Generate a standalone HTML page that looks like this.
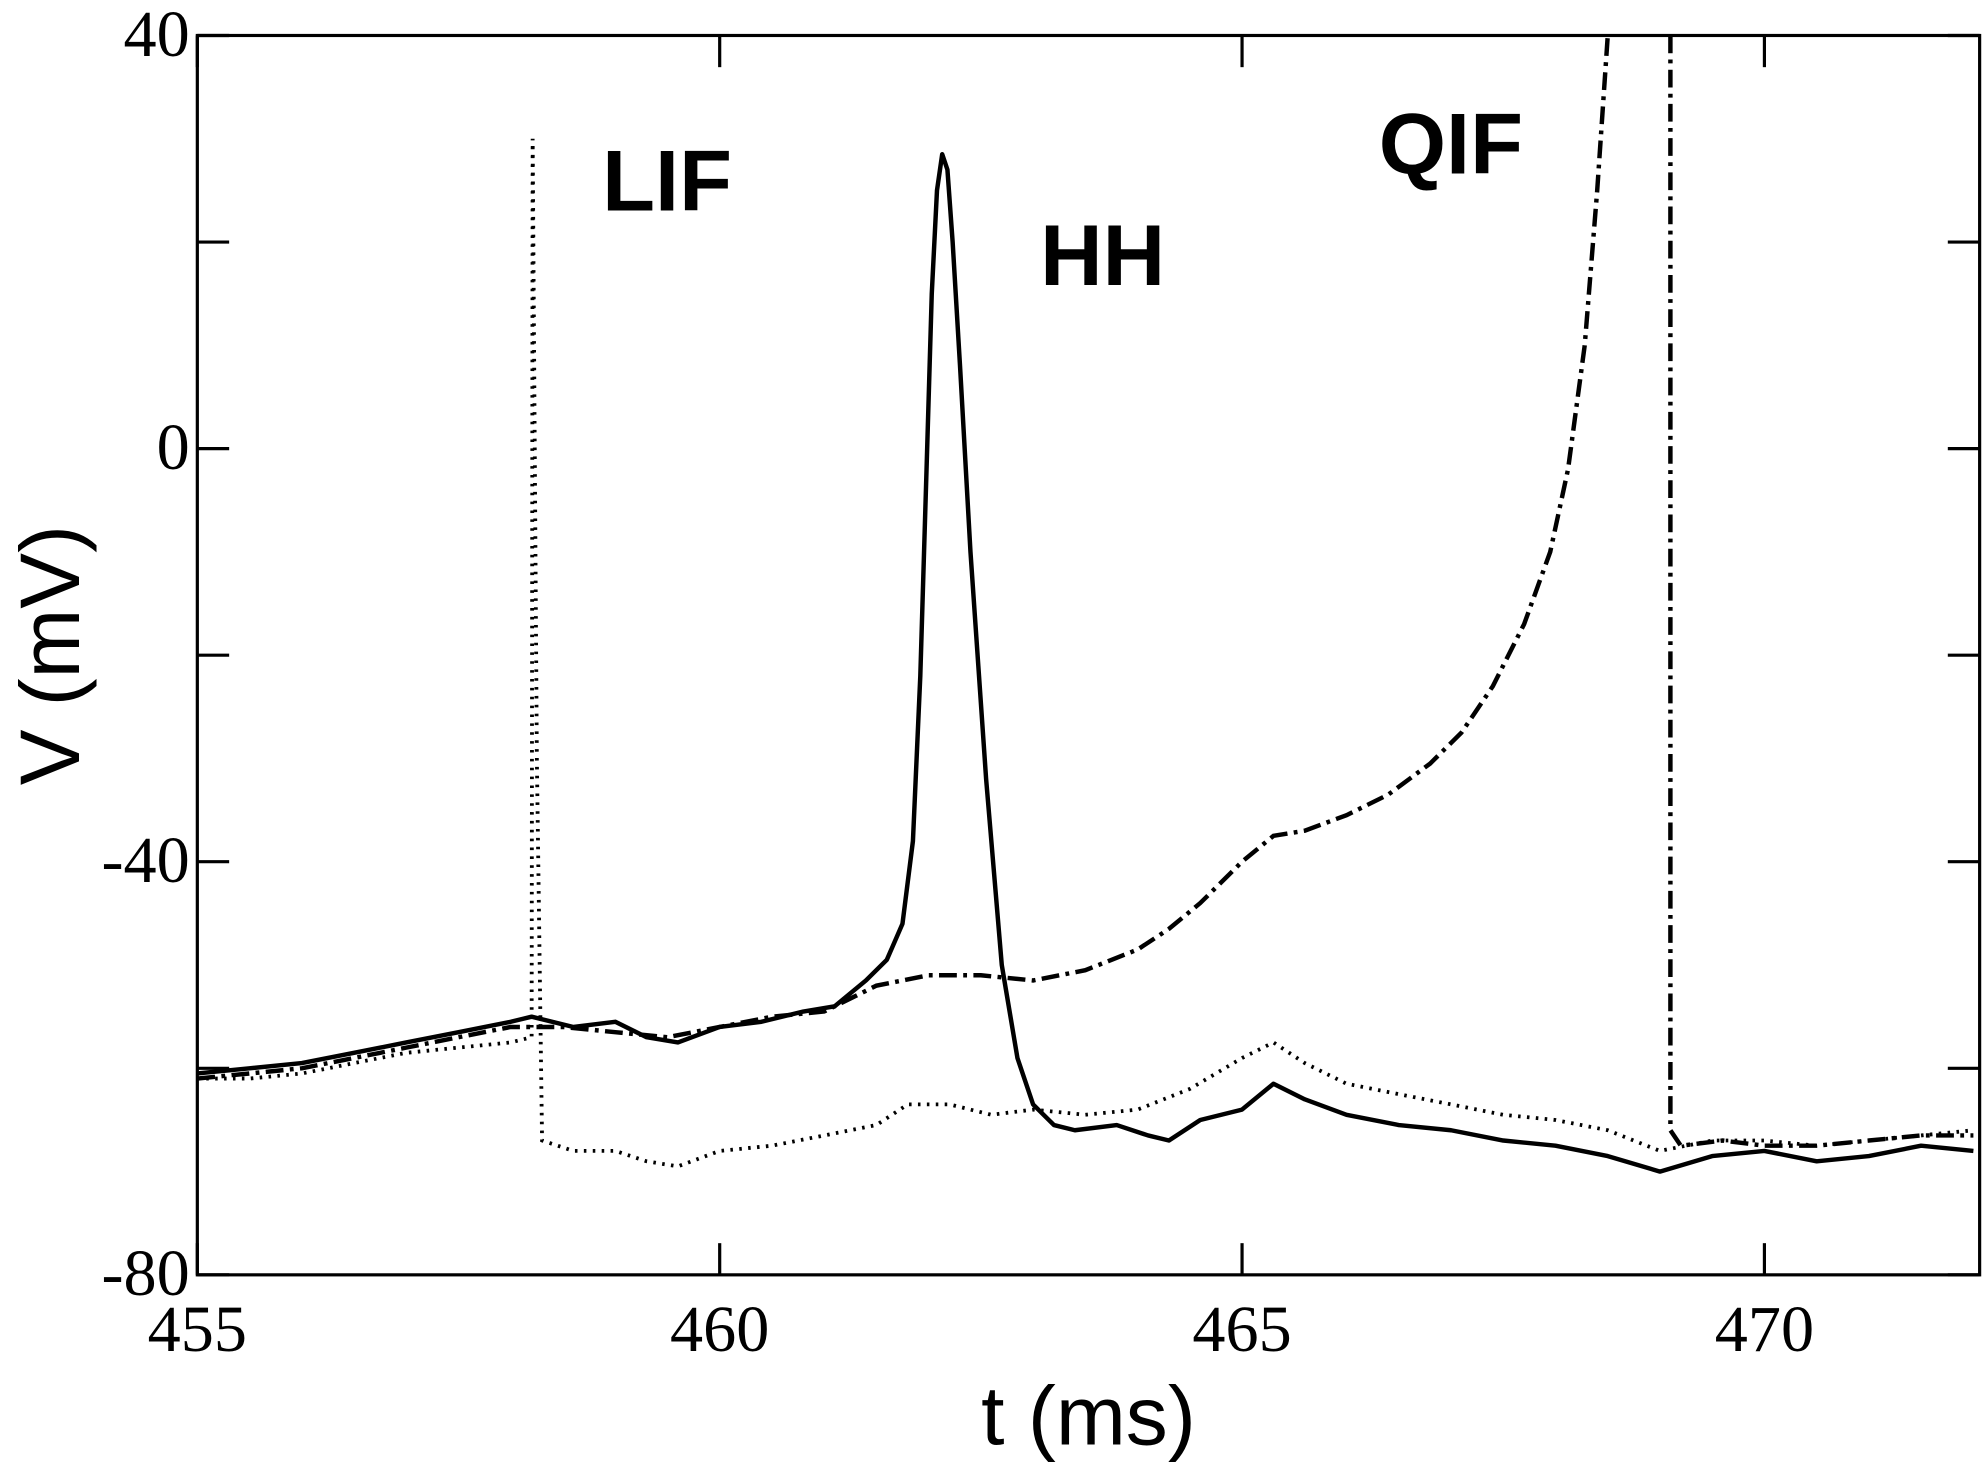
<!DOCTYPE html>
<html><head><meta charset="utf-8"><style>html,body{margin:0;padding:0;background:#fff}svg{display:block}</style></head>
<body>
<svg width="1986" height="1470" viewBox="0 0 1560 1160" preserveAspectRatio="none" xmlns="http://www.w3.org/2000/svg">
<g id="plot"></g>
</svg>
<script>
const xTicks=[455,460,465,470];
const xTickLabels=["455","460","465","470"];
const yTicks=[40,20,0,-20,-40,-60,-80];
const yTickLabels=["40","","0","","-40","","-80"];
const hhT=[455,455.5,456,456.5,457,457.5,458,458.2,458.6,459,459.3,459.6,460,460.4,460.8,461.1,461.4,461.6,461.75,461.85,461.92,461.98,462.03,462.08,462.13,462.18,462.23,462.3,462.4,462.55,462.7,462.85,463,463.2,463.4,463.8,464.1,464.3,464.6,465,465.3,465.6,466,466.5,467,467.5,468,468.5,469,469.5,470,470.5,471,471.5,472];
const hhV=[-60.5,-60,-59.5,-58.5,-57.5,-56.5,-55.5,-55,-56,-55.5,-57,-57.5,-56,-55.5,-54.5,-54,-51.5,-49.5,-46,-38,-22,-2,15,25,28.5,27,20,8,-10,-32,-50,-59,-63.5,-65.5,-66,-65.5,-66.5,-67,-65,-64,-61.5,-63,-64.5,-65.5,-66,-67,-67.5,-68.5,-70,-68.5,-68,-69,-68.5,-67.5,-68];
const lifT=[455,455.5,456,456.5,457,457.5,458,458.2,458.21,458.25,458.3,458.6,459,459.3,459.6,460,460.5,461,461.5,461.8,462.2,462.6,463,463.5,464,464.5,465,465.3,465.6,466,466.5,467,467.5,468,468.5,469,469.5,470,470.5,471,471.5,472];
const lifV=[-61,-61,-60.5,-59.5,-58.5,-58,-57.5,-57,30,-30,-67,-68,-68,-69,-69.5,-68,-67.5,-66.5,-65.5,-63.5,-63.5,-64.5,-64,-64.5,-64,-62,-59,-57.5,-59.5,-61.5,-62.5,-63.5,-64.5,-65,-66,-68,-67,-67,-67.5,-67,-66.5,-66];
const qifT=[455,455.5,456,456.5,457,457.5,458,458.5,459,459.5,460,460.5,461,461.5,462,462.5,463,463.5,464,464.3,464.6,465,465.3,465.6,466,466.4,466.8,467.1,467.4,467.7,467.95,468.12,468.28,468.4,468.5];
const qifV=[-61,-60.5,-60,-59,-58,-57,-56,-56,-56.5,-57,-56,-55,-54.5,-52,-51,-51,-51.5,-50.5,-48.5,-46.5,-44,-40,-37.5,-37,-35.5,-33.5,-30.5,-27.5,-23,-17,-10,-2,10,25,40];
const qifResetT=[469.1,469.1,469.2,469.6,470,470.5,471,471.5,472];
const qifResetV=[40,-66,-67.5,-67,-67.5,-67.5,-67,-66.5,-66.5];

const L=155,R=1555,T=28,B=1006,X0=455,X1=472.06,Y0=-80,Y1=40;
const sx=v=>L+(v-X0)/(X1-X0)*(R-L);
const sy=v=>B-(v-Y0)/(Y1-Y0)*(B-T);
const NS="http://www.w3.org/2000/svg";
const g=document.getElementById('plot');
function mk(tag,attrs,parent){const e=document.createElementNS(NS,tag);for(const k in attrs)e.setAttribute(k,attrs[k]);(parent||g).appendChild(e);return e;}
function path(ts,vs){return ts.map((t,i)=>(i?'L':'M')+sx(t).toFixed(1)+','+sy(vs[i]).toFixed(1)).join('');}

let p=mk('path',{d:path(lifT,lifV),fill:'none',stroke:'#000','stroke-width':3,'stroke-dasharray':'2,5'});


p=mk('path',{d:path(qifT,qifV),fill:'none',stroke:'#000','stroke-width':3.5,'stroke-dasharray':'14,5,3,5'});


p=mk('path',{d:path(qifResetT,qifResetV),fill:'none',stroke:'#000','stroke-width':3.5,'stroke-dasharray':'14,5,3,5'});


p=mk('path',{d:path(hhT,hhV),fill:'none',stroke:'#000','stroke-width':3.5,'stroke-linejoin':'round'});



let f=mk('rect',{x:L,y:T,width:R-L,height:B-T,fill:'none',stroke:'#000','stroke-width':2.5});



xTicks.forEach((v,i)=>{
 const x=sx(v);
 mk('line',{x1:x,y1:B,x2:x,y2:B-25,stroke:'#000','stroke-width':2.5});
 mk('line',{x1:x,y1:T,x2:x,y2:T+25,stroke:'#000','stroke-width':2.5});
 const t=mk('text',{x:x,y:B+60,'text-anchor':'middle','font-family':'Liberation Serif, serif','font-size':52});
 
 
 t.textContent=xTickLabels[i];
});
yTicks.forEach((v,i)=>{
 const y=sy(v);
 mk('line',{x1:L,y1:y,x2:L+25,y2:y,stroke:'#000','stroke-width':2.5});
 mk('line',{x1:R,y1:y,x2:R-25,y2:y,stroke:'#000','stroke-width':2.5});
 if(yTickLabels[i]){
 const t=mk('text',{x:L-6,y:y+16,'text-anchor':'end','font-family':'Liberation Serif, serif','font-size':52});
 
 
 t.textContent=yTickLabels[i];}
});
let t=mk('text',{x:855,y:1140,'text-anchor':'middle','font-family':'Liberation Sans, sans-serif','font-size':66});


t.textContent='t (ms)';
t=mk('text',{x:0,y:0,'text-anchor':'middle','font-family':'Liberation Sans, sans-serif','font-size':66,transform:'translate(62,517) rotate(-90)'});


t.textContent='V (mV)';
[['LIF',473,166,'lif-label'],['HH',817,225,'hh-label'],['QIF',1083,137,'qif-label']].forEach(a=>{
 const e=mk('text',{x:a[1],y:a[2],'font-family':'Liberation Sans, sans-serif','font-size':68,'font-weight':'bold'});
 
 
 e.textContent=a[0];
});
</script>
</body></html>
